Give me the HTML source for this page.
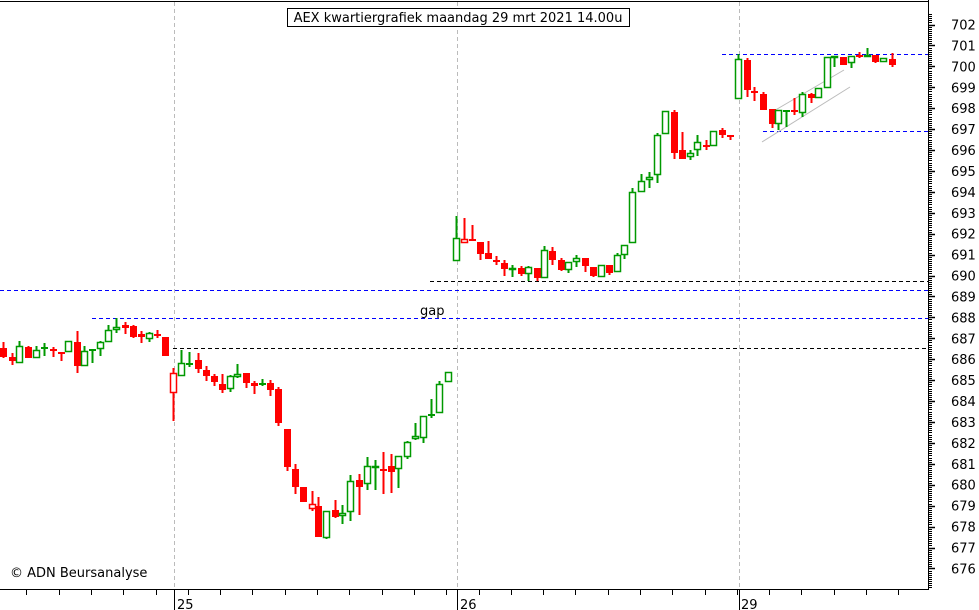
<!DOCTYPE html>
<html><head><meta charset="utf-8"><style>
html,body{margin:0;padding:0;background:#fff;width:979px;height:610px;overflow:hidden}
svg{display:block}
text{font-family:"DejaVu Sans","Liberation Sans",sans-serif}
</style></head><body>
<svg id="s" width="979" height="610" xmlns="http://www.w3.org/2000/svg">
<rect width="979" height="610" fill="#fff"/>
<g stroke="#bbb" stroke-dasharray="4,3" stroke-width="1">
<line x1="174.5" y1="2" x2="174.5" y2="589"/>
<line x1="457.5" y1="2" x2="457.5" y2="589"/>
<line x1="739.5" y1="2" x2="739.5" y2="589"/>
</g>
<g stroke-dasharray="4,3" stroke-width="1">
<line x1="722" y1="54.5" x2="928" y2="54.5" stroke="#00f"/>
<line x1="763" y1="131.5" x2="928" y2="131.5" stroke="#00f"/>
<line x1="430" y1="281.5" x2="928" y2="281.5" stroke="#000"/>
<line x1="0" y1="290.5" x2="928" y2="290.5" stroke="#00f"/>
<line x1="92" y1="318.5" x2="928" y2="318.5" stroke="#00f"/>
<line x1="173" y1="348.5" x2="928" y2="348.5" stroke="#000"/>
</g>
<g stroke="#bbb" stroke-width="1">
<line x1="762" y1="142" x2="850" y2="87"/>
<line x1="772" y1="112" x2="844" y2="70"/>
</g>
<g id="c"></g>
<g id="ax"></g>
<line x1="0" y1="1.5" x2="928" y2="1.5" stroke="#000"/>
<line x1="928.5" y1="0" x2="928.5" y2="589" stroke="#000"/>
<line x1="0" y1="589.5" x2="929" y2="589.5" stroke="#000"/>
<rect x="287.5" y="8.5" width="342" height="18" fill="#fff" stroke="#000"/>
<text x="458" y="22" font-size="13" text-anchor="middle">AEX kwartiergrafiek maandag 29 mrt 2021 14.00u</text>
<text x="420" y="315" font-size="13">gap</text>
<text x="10" y="577" font-size="13">© ADN Beursanalyse</text>
<text x="177" y="609" font-size="13">25</text>
<text x="460" y="609" font-size="13">26</text>
<text x="741" y="609" font-size="13">29</text>
</svg>
<script>
var C=[
[3,342,358,348,357,'r'],[12,353,365,357,361,'r'],[19,341,363,346,363,'g'],[28,346,358,347,358,'r'],[36,346,358,350,358,'g'],[44,343,356,347,349,'G'],[53,347,357,349,351,'r'],[61,352,361,352,354,'r'],[68,341,352,341,352,'g'],[77,331,373,342,366,'r'],[84,346,366,351,366,'g'],[92,349,363,349,351,'G'],[100,341,356,342,349,'g'],[108,325,342,330,342,'g'],[116,318,333,327,330,'g'],[125,322,334,325,328,'r'],[133,325,338,326,337,'r'],[141,331,343,334,337,'r'],[149,332,342,333,339,'g'],[157,330,338,334,336,'r'],[165,337,356,337,356,'r'],
[173,368,421,373,393,'R'],[181,350,376,363,376,'g'],[189,352,367,363,364,'G'],[198,353,373,360,369,'r'],[206,366,381,370,376,'r'],[214,374,386,376,382,'r'],[222,374,393,384,390,'r'],[230,375,392,376,389,'g'],[237,364,378,374,377,'g'],[246,373,388,373,383,'r'],[254,381,394,383,386,'r'],[262,379,386,383,384,'G'],[270,380,396,383,390,'r'],[278,387,426,389,423,'r'],[287,429,471,429,467,'r'],[295,464,494,469,487,'r'],[303,487,502,487,502,'r'],[312,491,511,504,509,'R'],[318,497,537,506,537,'r'],[326,511,539,511,538,'g'],[335,500,518,510,517,'r'],[342,505,524,513,516,'g'],[350,475,521,481,512,'g'],[359,474,515,480,487,'r'],[367,457,490,466,484,'g'],[375,460,490,466,468,'g'],[383,452,494,469,471,'r'],[391,454,493,466,472,'r'],[398,456,488,456,469,'g'],[407,441,459,442,457,'g'],[415,423,440,436,439,'g'],[423,416,443,416,438,'g'],[431,399,418,414,416,'G'],[439,381,413,384,413,'g'],[448,372,382,372,382,'g'],
[456,216,261,238,261,'g'],[464,218,243,239,243,'R'],[472,225,241,239,240,'r'],[480,242,260,242,254,'r'],[488,241,259,253,259,'r'],[496,256,265,260,262,'r'],[504,260,276,263,269,'r'],[512,265,277,268,270,'g'],[521,266,276,268,274,'r'],[528,266,281,267,274,'g'],[537,268,281,268,278,'r'],[544,246,278,250,278,'g'],[552,247,265,251,260,'r'],[561,258,271,260,270,'r'],[568,262,273,262,270,'g'],[576,255,267,258,262,'g'],[585,258,272,258,266,'r'],[593,267,277,267,276,'r'],[601,265,277,265,277,'g'],[609,265,275,265,273,'r'],[617,253,272,255,272,'g'],[624,245,259,245,255,'g'],[632,188,243,192,243,'g'],[641,174,192,181,192,'g'],[649,172,188,177,180,'g'],[657,133,183,135,175,'g'],[665,111,134,111,134,'g'],[674,110,159,112,153,'r'],[682,132,159,150,159,'r'],[690,150,160,153,157,'g'],[697,135,156,142,150,'g'],[706,140,150,145,147,'r'],[713,131,146,131,146,'g'],[722,128,138,130,135,'r'],[730,135,140,135,137,'r'],
[738,54,99,59,99,'g'],[747,58,97,60,90,'r'],[754,87,101,91,92,'r'],[763,92,110,94,110,'r'],[772,109,128,109,124,'r'],[778,110,130,110,124,'g'],[786,110,127,110,111,'G'],[794,98,115,110,112,'r'],[802,92,117,94,113,'g'],[811,93,103,94,98,'r'],[818,88,98,88,98,'g'],[827,57,88,57,88,'g'],[834,56,67,56,58,'g'],[843,57,65,57,65,'r'],[851,56,68,56,63,'g'],[859,52,58,55,56,'r'],[867,48,57,55,57,'g'],[875,55,63,55,62,'r'],[883,58,62,58,62,'g'],[892,53,67,59,65,'r']];
var h='';
C.forEach(function(c){var x=c[0],t=c[5];var col=(t=='g'||t=='G')?'#090':'#f00';
h+='<line x1="'+(x+.5)+'" y1="'+c[1]+'" x2="'+(x+.5)+'" y2="'+c[2]+'" stroke="'+col+'" stroke-width="2"/>';
var bh=Math.max(c[4]-c[3],2);
if(t=='r'||t=='G')h+='<rect x="'+(x-3)+'" y="'+c[3]+'" width="7" height="'+bh+'" fill="'+col+'"/>';
else h+='<rect x="'+(x-2.5)+'" y="'+(c[3]+.5)+'" width="6" height="'+(bh-1)+'" fill="#fff" stroke="'+col+'" stroke-width="1.5"/>';});
document.getElementById('c').innerHTML=h;
var a='';var u=20.92;
for(var i=0;;i++){var y=24.5+(i-5)*u/10;if(y<3)continue;if(y>589)break;var v=702-(i-5)/10;
var maj=((i-5)%10==0);a+='<line x1="928" y1="'+(Math.round(y)+.5)+'" x2="'+(maj?935:932)+'" y2="'+(Math.round(y)+.5)+'" stroke="#000" stroke-width="'+(maj?1.5:1)+'"/>';
if(maj&&v>=676&&v<=702)a+='<text x="951" y="'+(y+5)+'" font-size="13">'+Math.round(v)+'</text>';}
for(var x=-6;x<928;x+=32.3){a+='<line x1="'+(Math.round(x)+.5)+'" y1="589" x2="'+(Math.round(x)+.5)+'" y2="595" stroke="#000"/>';}
[174,457,739].forEach(function(x){a+='<line x1="'+(x+.5)+'" y1="589" x2="'+(x+.5)+'" y2="610" stroke="#000"/>';});
document.getElementById('ax').innerHTML=a;
</script>
</body></html>
